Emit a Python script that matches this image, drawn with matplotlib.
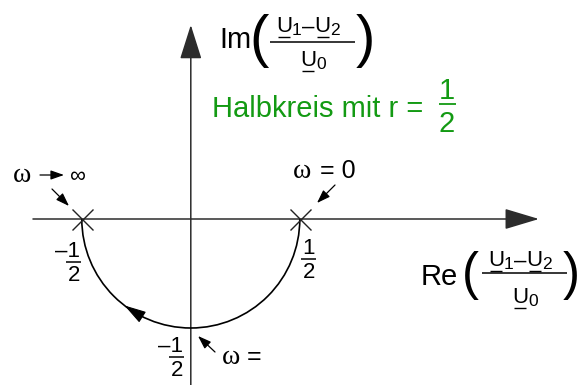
import matplotlib.pyplot as plt
from matplotlib.patches import Arc, FancyArrowPatch, ArrowStyle
import numpy as np

W, H, DPI = 582, 385, 100
# origin of the complex plane in pixels and pixels per unit
X0, Y0, S = 190.8, 219.0, 218.0

radius = 0.5
cross_re = [-0.5, 0.5]
cross_im = [0.0, 0.0]
re_axis = (-0.724, 1.597)
im_axis = (-0.775, 0.890)
arrow_deg = (-118.0, -127.5)

SANS = "Liberation Sans"
SERIF = "Liberation Serif"
GREEN = "#139a13"
AXIS = "#2c2c2c"


def pt(px):
    return px * 72.0 / DPI


def to_px(x, y):
    return X0 + x * S, Y0 - y * S


fig = plt.figure(figsize=(W / DPI, H / DPI), dpi=DPI)
ax = fig.add_axes([0, 0, 1, 1])
ax.set_xlim(-X0 / S, (W - X0) / S)
ax.set_ylim(-(H - Y0) / S, Y0 / S)
ax.axis("off")

# axes of the complex plane
ax.add_patch(FancyArrowPatch(
    (re_axis[0], 0), (re_axis[1], 0),
    arrowstyle=ArrowStyle("-|>", head_length=pt(30), head_width=pt(9)),
    color=AXIS, lw=1.1, shrinkA=0, shrinkB=0))
ax.add_patch(FancyArrowPatch(
    (0, im_axis[0]), (0, im_axis[1]),
    arrowstyle=ArrowStyle("-|>", head_length=pt(30), head_width=pt(9.5)),
    color=AXIS, lw=1.1, shrinkA=0, shrinkB=0))

# locus: lower half circle
ax.add_patch(Arc((0, 0), 2 * radius, 2 * radius, theta1=180, theta2=360,
                 color="black", lw=1.2))
ax.plot(cross_re, cross_im, "x", ms=pt(21), mew=1.0, color="#222222")

a0, a1 = np.radians(arrow_deg)
ax.add_patch(FancyArrowPatch(
    (radius * np.cos(a0), radius * np.sin(a0)),
    (radius * np.cos(a1), radius * np.sin(a1)),
    arrowstyle=ArrowStyle("-|>", head_length=pt(19), head_width=pt(5.5)),
    color="black", lw=0.8, shrinkA=0, shrinkB=0))

# annotation layer in pixel coordinates
ov = fig.add_axes([0, 0, 1, 1])
ov.set_xlim(0, W)
ov.set_ylim(H, 0)
ov.axis("off")
ov.patch.set_alpha(0)


def txt(x, y, s, size, family=SANS, ha="left", va="baseline", color="black"):
    ov.text(x, y, s, fontsize=size, family=family, ha=ha, va=va, color=color)


def hline(x0, x1, y, lw=1.0, color="black"):
    ov.plot([x0, x1], [y, y], color=color, lw=lw, solid_capstyle="butt")


def pointer(x0, y0, x1, y1):
    ov.annotate("", xy=(x1, y1), xytext=(x0, y0),
                arrowprops=dict(arrowstyle="-|>,head_length=0.8,head_width=0.28",
                                mutation_scale=10, color="black", lw=0.9,
                                shrinkA=0, shrinkB=0))


def small_frac(cx, base, den, num="1", size=16, color="black"):
    # numerator is right aligned so that a leading sign hangs to the left
    txt(cx + 6.2, base, num, size, ha="right", color=color)
    hline(cx - 7.5, cx + 7.5, base + 5, lw=1.1, color=color)
    txt(cx, base + 24, den, size, ha="center", color=color)


def underlined_u(x, base, sub, size=16, sub_size=12.5, sub_drop=3):
    txt(x, base, "U", size)
    txt(x + 16, base + sub_drop, sub, sub_size)
    hline(x + 2, x + 14, base + 4.5, lw=1.0)


def ratio_label(prefix, x_text, base_text, x_num, base_num, bar_y, base_den,
                lpar_x, rpar_x, par_base, par_size):
    txt(x_text, base_text, prefix, 21)
    txt(lpar_x, par_base, "(", par_size, ha="center")
    txt(rpar_x, par_base, ")", par_size, ha="center")
    underlined_u(x_num, base_num, "1")
    txt(x_num + 32, base_num + 1, "–", 16, ha="center")
    underlined_u(x_num + 38.5, base_num, "2")
    hline(x_num - 6, x_num + 79, bar_y, lw=1.1)
    underlined_u(x_num + 24, base_den, "0")


ratio_label("Im", 219, 48, 276, 32, 42, 66, 259, 365, 56, 42)
ratio_label("Re", 421, 285, 488, 266, 273, 303, 470, 571, 289, 37)

# tick values on the axes
x_l, _ = to_px(cross_re[0], 0)
x_r, _ = to_px(cross_re[1], 0)
x_c, y_b = to_px(0, -radius)
small_frac(x_l - 8, 257, "2", num="–1")
small_frac(x_r + 9, 254, "2")
small_frac(x_c - 14, 352, "2", num="–1")

# frequency markers
txt(13, 182, "ω", 20, family=SERIF)
pointer(40, 175, 64, 175)
txt(69, 182, "∞", 16)
pointer(52, 189, 69, 206)

txt(293, 178, "ω", 20, family=SERIF)
txt(320, 178, "= 0", 18)
pointer(335, 185, 317, 203)

txt(222, 364, "ω", 20, family=SERIF)
txt(247, 364, "=", 18)
pointer(215, 352, 198, 336)

# radius note
txt(212, 117, "Halbkreis mit r =", 21, color=GREEN)
txt(447, 99, "1", 21, ha="center", color=GREEN)
hline(439, 456, 104, lw=1.3, color=GREEN)
txt(447, 132, "2", 21, ha="center", color=GREEN)

fig.savefig("out.png", dpi=DPI)
